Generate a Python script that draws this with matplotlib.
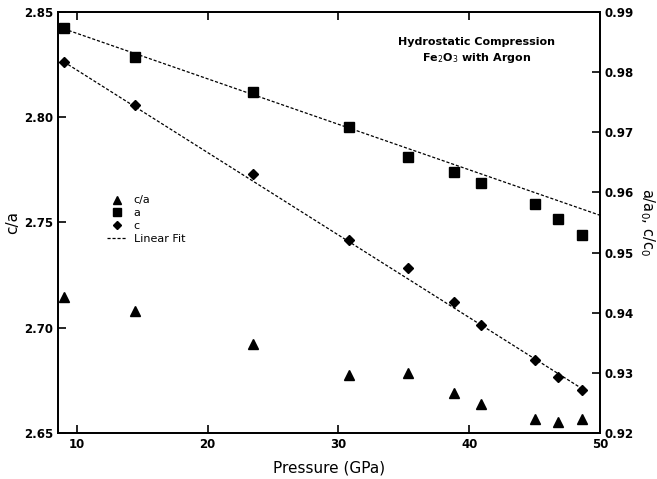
import numpy as np
from matplotlib import pyplot as plt
from matplotlib.lines import Line2D

pressure = [9.0, 14.4, 23.5, 30.8, 35.3, 38.85, 40.9, 45.0, 46.8, 48.6]
c_over_a = [2.7147, 2.7080, 2.6924, 2.6776, 2.6786, 2.6691, 2.6639, 2.6567, 2.6553, 2.6567]
a_rel = [0.9873, 0.9825, 0.9767, 0.9709, 0.9659, 0.9634, 0.9615, 0.9581, 0.9556, 0.9529]
c_rel = [0.9817, 0.9745, 0.9630, 0.9521, 0.9474, 0.9417, 0.9379, 0.9322, 0.9293, 0.9271]

# линейные аппроксимации (свободный член, наклон)
a_fit = (0.9940, -0.000756)
c_fit = (0.99404, -0.001371)
a_fit_range = (9.0, 50.0)
c_fit_range = (9.0, 48.6)

plt.rcParams['font.family'] = ['DejaVu Sans']

fig = plt.figure(figsize=(6.57, 4.79), dpi=100)
ax = fig.add_axes([0.0883, 0.096, 0.8249, 0.879])
ax2 = ax.twinx()

ax.plot(pressure, c_over_a, '^', color='black', markersize=7.5)
ax2.plot(pressure, a_rel, 's', color='black', markersize=7.5)
ax2.plot(pressure, c_rel, 'D', color='black', markersize=5.5)

for fit, rng in [(a_fit, a_fit_range), (c_fit, c_fit_range)]:
  xs = np.array(rng)
  ax2.plot(xs, fit[0] + fit[1] * xs, color='black', lw=0.9, dashes=(2.5, 1.5))

ax.set_xlim(8.55, 50)
ax.set_ylim(2.65, 2.85)
ax2.set_ylim(0.92, 0.99)
ax.set_xticks([10, 20, 30, 40, 50])
ax.set_yticks([2.65, 2.70, 2.75, 2.80, 2.85])
ax.set_yticklabels(['2.65', '2.70', '2.75', '2.80', '2.85'])
ax2.set_yticks([0.92, 0.93, 0.94, 0.95, 0.96, 0.97, 0.98, 0.99])

ax.tick_params(axis='both', direction='in', length=6, width=1.2, labelsize=8.5, top=True)
ax2.tick_params(axis='y', direction='in', length=6, width=1.2, labelsize=8.5)
for t in ax.get_xticklabels() + ax.get_yticklabels() + ax2.get_yticklabels():
  t.set_fontweight('bold')
for a in (ax, ax2):
  for s in a.spines.values():
    s.set_linewidth(1.3)

ax.set_xlabel('Pressure (GPa)', fontsize=11, labelpad=7)
ax.set_ylabel('c/a', fontsize=11, labelpad=3)
ax2.set_ylabel('a/a$_0$, c/c$_0$', fontsize=10.5, rotation=270, labelpad=16)

ax.text(0.773, 0.907, 'Hydrostatic Compression\nFe$_2$O$_3$ with Argon', transform=ax.transAxes,
        ha='center', va='center', fontsize=8, fontweight='bold', linespacing=1.4)

handles = [
  Line2D([], [], marker='^', ls='', color='black', markersize=6),
  Line2D([], [], marker='s', ls='', color='black', markersize=6),
  Line2D([], [], marker='D', ls='', color='black', markersize=4.5),
  Line2D([], [], color='black', lw=0.9, dashes=(2.5, 1.5)),
]
ax.legend(handles, ['c/a', 'a', 'c', 'Linear Fit'], loc='upper left', bbox_to_anchor=(0.072, 0.588),
          frameon=False, fontsize=8, handlelength=1.8, handletextpad=0.6, labelspacing=0.25)

plt.savefig('out.png', dpi=100)
